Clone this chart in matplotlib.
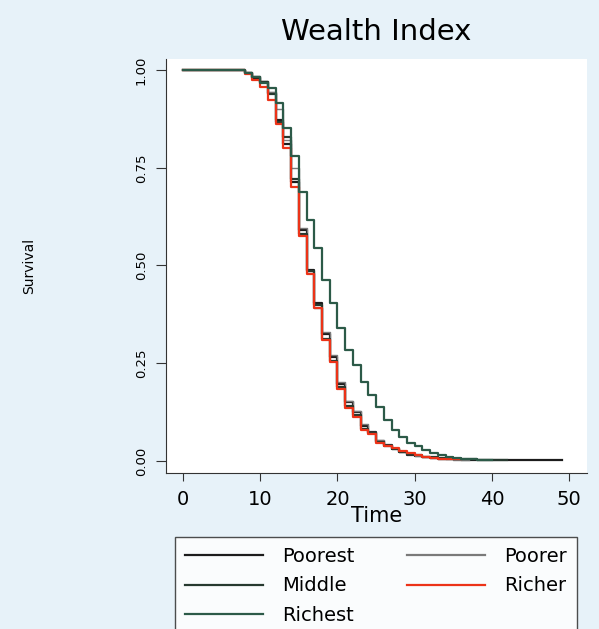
import numpy as np
import matplotlib
matplotlib.use("Agg")
from matplotlib import pyplot as plt

# survival estimates, value holds from each time to the next
poorest_t = [0, 8, 9, 10, 11, 12, 13, 14, 15, 16, 17, 18, 19, 20, 21, 22, 23, 24, 25, 26, 27, 28, 29, 30, 31, 32, 33, 34, 35, 36, 37, 49]
poorest_s = [1.0, 0.992, 0.980, 0.970, 0.942, 0.872, 0.810, 0.714, 0.590, 0.488, 0.405, 0.325, 0.265, 0.198, 0.150, 0.125, 0.090, 0.075, 0.050, 0.040, 0.030, 0.022, 0.016, 0.012, 0.010, 0.008, 0.006, 0.005, 0.004, 0.003, 0.002, 0.002]

poorer_t = [0, 8, 9, 10, 11, 12, 13, 14, 15, 16, 17, 18, 19, 20, 21, 22, 23, 24, 25, 26, 27, 28, 29, 30, 31, 32, 33, 34, 35, 37]
poorer_s = [1.0, 0.994, 0.986, 0.972, 0.945, 0.900, 0.820, 0.750, 0.596, 0.480, 0.392, 0.330, 0.270, 0.202, 0.152, 0.128, 0.094, 0.074, 0.054, 0.041, 0.032, 0.024, 0.018, 0.013, 0.010, 0.007, 0.005, 0.004, 0.003, 0.003]

middle_t = [0, 8, 9, 10, 11, 12, 13, 14, 15, 16, 17, 18, 19, 20, 21, 22, 23, 24, 25, 26, 27, 28, 29, 30, 31, 32, 33, 34, 35, 38, 42]
middle_s = [1.0, 0.993, 0.982, 0.970, 0.940, 0.868, 0.830, 0.720, 0.580, 0.486, 0.398, 0.312, 0.255, 0.190, 0.140, 0.118, 0.082, 0.072, 0.048, 0.038, 0.030, 0.024, 0.018, 0.014, 0.011, 0.009, 0.007, 0.005, 0.004, 0.002, 0.002]

richer_t = [0, 8, 9, 10, 11, 12, 13, 14, 15, 16, 17, 18, 19, 20, 21, 22, 23, 24, 25, 26, 27, 28, 29, 30, 31, 32, 33, 34, 36]
richer_s = [1.0, 0.990, 0.975, 0.957, 0.923, 0.862, 0.800, 0.700, 0.575, 0.478, 0.390, 0.309, 0.252, 0.185, 0.135, 0.113, 0.079, 0.070, 0.046, 0.037, 0.032, 0.026, 0.020, 0.015, 0.011, 0.008, 0.006, 0.004, 0.004]

richest_t = [0, 8, 9, 10, 11, 12, 13, 14, 15, 16, 17, 18, 19, 20, 21, 22, 23, 24, 25, 26, 27, 28, 29, 30, 31, 32, 33, 34, 35, 36, 38, 40]
richest_s = [1.0, 0.993, 0.983, 0.968, 0.953, 0.916, 0.851, 0.780, 0.689, 0.616, 0.544, 0.463, 0.405, 0.339, 0.284, 0.246, 0.203, 0.169, 0.139, 0.105, 0.079, 0.062, 0.047, 0.037, 0.028, 0.021, 0.015, 0.011, 0.007, 0.004, 0.002, 0.002]

x_ticks = [0, 10, 20, 30, 40, 50]
y_ticks = [0.0, 0.25, 0.5, 0.75, 1.0]
y_labels = ["0.00", "0.25", "0.50", "0.75", "1.00"]

bg = "#e7f2f9"
fig = plt.figure(figsize=(5.99, 6.29), dpi=100, facecolor=bg)
ax = fig.add_axes([0.277, 0.248, 0.703, 0.658])
ax.set_facecolor("white")

lw = 1.6
h_poorest, = ax.step(poorest_t, poorest_s, where="post", color="#1c1c1c", lw=lw)
h_poorer, = ax.step(poorer_t, poorer_s, where="post", color="#7a7a7a", lw=1.0)
h_middle, = ax.step(middle_t, middle_s, where="post", color="#26392f", lw=lw)
h_richer, = ax.step(richer_t, richer_s, where="post", color="#ec3318", lw=lw)
h_richest, = ax.step(richest_t, richest_s, where="post", color="#2c5a48", lw=lw)

ax.set_xlim(-2.2, 52.3)
ax.set_ylim(-0.031, 1.028)
ax.spines["top"].set_visible(False)
ax.spines["right"].set_visible(False)
ax.spines["left"].set_color("#333333")
ax.spines["bottom"].set_color("#333333")

ax.set_xticks(x_ticks)
ax.set_xticklabels([str(v) for v in x_ticks], fontsize=14)
ax.set_yticks(y_ticks)
ax.set_yticklabels(y_labels, fontsize=9.5, rotation=90, va="center")
ax.tick_params(axis="x", length=6, pad=6, color="#333333")
ax.tick_params(axis="y", length=7, pad=6, color="#333333")

ax.set_xlabel("Time", fontsize=15, labelpad=-2)
ax.set_ylabel("Survival", fontsize=10, labelpad=71)
ax.set_title("Wealth Index", fontsize=21, pad=14)

leg = fig.legend([h_poorest, h_middle, h_richest, h_poorer, h_richer],
                 ["Poorest", "Middle", "Richest", "Poorer", "Richer"],
                 ncol=2, loc="upper left",
                 bbox_to_anchor=(175 / 599, 1 - 537 / 629, 402 / 599, 0.0),
                 mode="expand", borderaxespad=0, fontsize=14,
                 frameon=True, fancybox=False, edgecolor="#222222",
                 handlelength=4.0, handletextpad=1.0, labelspacing=0.55,
                 borderpad=0.5, columnspacing=0.6)
leg.get_frame().set_linewidth(1.0)
leg.get_frame().set_facecolor("white")
for line in leg.get_lines():
    line.set_linewidth(1.6)

fig.savefig("out.png", dpi=100, facecolor=bg)
